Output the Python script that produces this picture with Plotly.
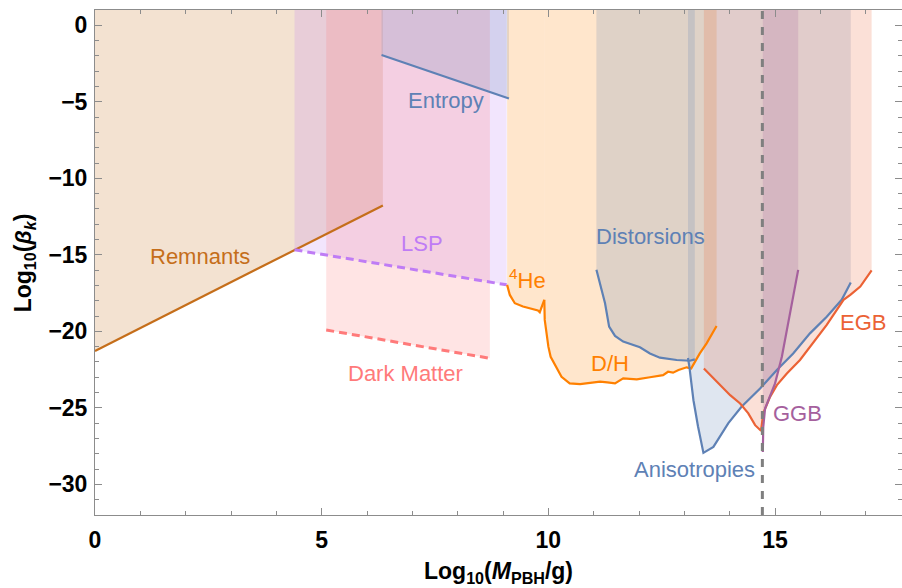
import plotly.graph_objects as go

# ---- constraint curves: log10(M_PBH / g) vs log10(beta_k) ----
remnants_x = [0.0, 6.35]
remnants_y = [-21.28, -11.77]

entropy_x = [6.32, 9.13]
entropy_y = [-1.94, -4.78]

lsp_x = [4.40, 9.08]
lsp_y = [-14.67, -16.96]

dm_x = [5.10, 8.71]
dm_y = [-19.91, -21.76]

he4_x = [9.09, 9.15, 9.26, 9.44, 9.77, 9.81, 9.91]
he4_y = [-16.96, -17.62, -18.16, -18.38, -18.64, -18.75, -17.94]

dh_x = [9.91, 9.92, 10.0, 10.05, 10.29, 10.47, 10.70, 10.92, 11.14, 11.30, 11.47, 11.65,
        11.95, 12.24, 12.53, 12.64, 12.75, 12.87, 13.05, 13.15, 13.23, 13.34, 13.49, 13.71]
dh_y = [-17.94, -19.25, -21.0, -21.66, -22.97, -23.4, -23.45, -23.36, -23.29, -23.33, -23.4, -23.07,
        -23.14, -23.0, -22.86, -22.64, -22.7, -22.53, -22.35, -22.42, -21.98, -21.44, -20.78, -19.65]

dist_x = [11.06, 11.25, 11.34, 11.47, 11.65, 12.02, 12.24, 12.46, 12.83, 13.12, 13.23]
dist_y = [-15.98, -18.16, -19.69, -20.3, -20.67, -21.04, -21.44, -21.72, -21.87, -21.92, -21.83]

aniso_x = [13.08, 13.11, 13.2, 13.3, 13.42, 13.64, 13.97, 14.26, 14.67, 15.04, 15.4,
           15.77, 16.14, 16.47, 16.67]
aniso_y = [-21.74, -22.3, -24.5, -26.2, -27.94, -27.55, -26.0, -24.93, -23.73, -22.53, -21.44,
           -20.13, -19.04, -17.94, -16.81]

egb_x = [13.43, 13.5, 13.75, 14.01, 14.23, 14.41, 14.56, 14.69, 14.74, 14.89, 15.04, 15.26,
         15.55, 15.85, 16.14, 16.51, 16.66, 16.88, 17.13]
egb_y = [-22.42, -22.64, -23.4, -24.17, -24.71, -25.36, -26.13, -26.5, -25.36, -24.28, -23.51, -22.75,
         -21.87, -20.67, -19.58, -17.94, -17.62, -17.07, -16.02]

ggb_x = [14.73, 14.74, 14.78, 14.89, 15.0, 15.15, 15.26, 15.37, 15.51]
ggb_y = [-27.88, -26.24, -25.04, -24.28, -23.4, -21.66, -19.9, -18.38, -15.98]

# mass of black holes evaporating today
m_star = 14.72

X_RANGE = [0, 17.8]
Y_RANGE = [-32, 1]
TOP = Y_RANGE[1]

BLUE = "#5E81B5"
ORANGE = "#FF8000"
REMN = "#C56E1A"
LSPC = "#BF7CF5"
DMC = "#FF7A7A"
EGBC = "#EB6235"
GGBC = "#A5609D"


def rgba(hexcol, a):
    h = hexcol.lstrip("#")
    r, g, b = int(h[0:2], 16), int(h[2:4], 16), int(h[4:6], 16)
    return f"rgba({r},{g},{b},{a})"


# (x, y, colour, dash) -- each region excluded from the curve up to the top
curves = [
    (remnants_x, remnants_y, REMN, None),
    (lsp_x, lsp_y, LSPC, "dash"),
    (dm_x, dm_y, DMC, "dash"),
    (entropy_x, entropy_y, BLUE, None),
    (he4_x, he4_y, ORANGE, None),
    (dh_x, dh_y, ORANGE, None),
    (dist_x, dist_y, BLUE, None),
    (aniso_x, aniso_y, BLUE, None),
    (egb_x, egb_y, EGBC, None),
    (ggb_x, ggb_y, GGBC, None),
]

fig = go.Figure()

# filled regions
for xs, ys, col, _ in curves:
    px = list(xs) + [xs[-1], xs[0], xs[0]]
    py = list(ys) + [TOP, TOP, ys[0]]
    fig.add_trace(go.Scatter(x=px, y=py, mode="lines", fill="toself",
                             fillcolor=rgba(col, 0.2), line=dict(width=0),
                             hoverinfo="skip", showlegend=False))

# boundary curves
for xs, ys, col, dash in curves:
    if dash:
        line = dict(color=col, width=3, dash="8px,5px")
    else:
        line = dict(color=col, width=2.2)
    fig.add_trace(go.Scatter(x=xs, y=ys, mode="lines", line=line,
                             hoverinfo="skip", showlegend=False))

# vertical reference line
fig.add_trace(go.Scatter(x=[m_star, m_star], y=Y_RANGE, mode="lines",
                         line=dict(color="#7F7F7F", width=3, dash="8px,8px"),
                         hoverinfo="skip", showlegend=False))

LABEL_FONT = "Liberation Sans, Arial, sans-serif"
labels = [
    ("Remnants", 2.31, -15.13, REMN),
    ("Entropy", 7.74, -4.89, BLUE),
    ("LSP", 7.21, -14.28, LSPC),
    ("Dark Matter", 6.85, -22.75, DMC),
    ("<sup>4</sup>He", 9.55, -16.55, ORANGE),
    ("Distorsions", 12.26, -13.8, BLUE),
    ("D/H", 11.36, -22.09, ORANGE),
    ("Anisotropies", 13.23, -29.03, BLUE),
    ("GGB", 15.5, -25.36, GGBC),
    ("EGB", 16.95, -19.43, EGBC),
]
for txt, x, y, col in labels:
    fig.add_annotation(x=x, y=y, text=txt, showarrow=False,
                       font=dict(family=LABEL_FONT, size=22, color=col),
                       xanchor="center", yanchor="middle")

# axis titles
fig.add_annotation(xref="paper", yref="paper", x=0.5, y=-0.113,
                   text="Log<sub>10</sub>(<i>M</i><sub>PBH</sub>/g)", showarrow=False,
                   font=dict(family=LABEL_FONT, size=23, color="black", weight="bold"),
                   xanchor="center", yanchor="middle")
fig.add_annotation(xref="paper", yref="paper", x=-0.087, y=0.5, textangle=-90,
                   text="Log<sub>10</sub>(<i>β</i><sub><i>k</i></sub>)", showarrow=False,
                   font=dict(family=LABEL_FONT, size=23, color="black", weight="bold"),
                   xanchor="center", yanchor="middle")

axis_common = dict(
    showgrid=False, zeroline=False, showline=True, linecolor="#8C8C8C", linewidth=1,
    mirror="ticks", ticks="inside", ticklen=7, tickcolor="#8C8C8C", tickwidth=1,
    tickfont=dict(family=LABEL_FONT, size=23, color="black", weight="bold"),
    minor=dict(dtick=1, ticks="inside", ticklen=4, tickcolor="#8C8C8C", tickwidth=1),
)

fig.update_xaxes(range=X_RANGE, tick0=0, dtick=5, ticklabelstandoff=4, **axis_common)
fig.update_yaxes(range=Y_RANGE, tick0=0, dtick=5, ticklabelstandoff=2, **axis_common)

fig.update_layout(
    width=902, height=588,
    margin=dict(l=95, r=0, t=10, b=73),
    plot_bgcolor="white", paper_bgcolor="white",
    showlegend=False,
)

fig.write_html("out.html")
